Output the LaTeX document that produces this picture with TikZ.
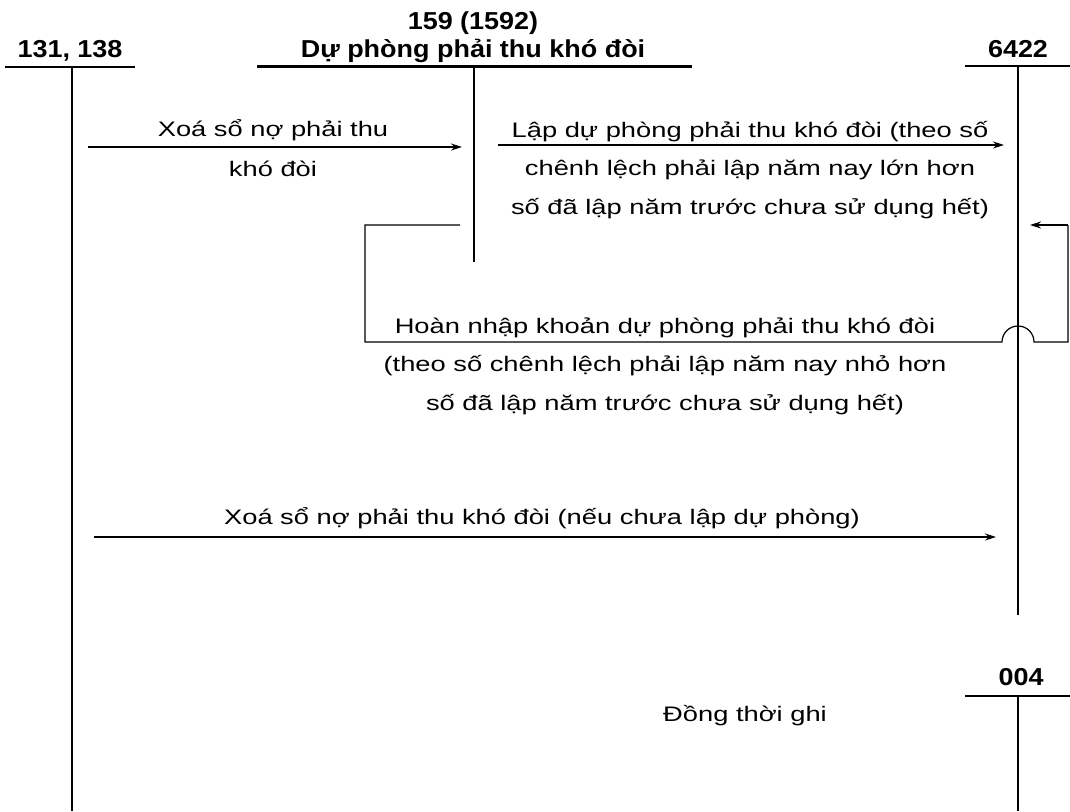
\documentclass[tikz,border=0pt]{standalone}
\usepackage{fontspec}
\setmainfont{Liberation Sans}[FakeStretch=1.3]
\newfontfamily\hdrfont{Liberation Sans}[FakeStretch=1.1]
\usetikzlibrary{arrows.meta}
\begin{document}
\begin{tikzpicture}[x=1pt,y=-1pt,
  lbl/.style={inner sep=0pt,align=center,font=\fontsize{21}{38.5}\selectfont},
  hdr/.style={inner sep=0pt,align=center,font=\hdrfont\bfseries\fontsize{24.5}{28}\selectfont},
  acct/.style={line width=1.5pt},
  flow/.style={line width=1.2pt,-{Stealth[length=11pt,width=7pt]}},
  wire/.style={line width=1.2pt}]
\useasboundingbox (0,0) rectangle (1070,811);
% headers
\node[hdr,anchor=base] (h131) at (70,57) {131, 138};
\node[hdr,anchor=south] (h159) at (473,63) {159 (1592)\\Dự phòng phải thu khó đòi};
\node[hdr,anchor=base] (h6422) at (1018,57) {6422};
\node[hdr,anchor=base] (h004) at (1021,685) {004};
% T-account coordinates
\coordinate (a131l) at (5,67);   \coordinate (a131r) at (135,67);
\coordinate (a131t) at (72,67);  \coordinate (a131b) at (72,811);
\coordinate (a159l) at (257,66); \coordinate (a159r) at (692,66);
\coordinate (a159t) at (474,66); \coordinate (a159b) at (474,262);
\coordinate (a6422l) at (965,66); \coordinate (a6422r) at (1070,66);
\coordinate (a6422t) at (1018,66); \coordinate (a6422b) at (1018,615);
\coordinate (a004l) at (965,696); \coordinate (a004r) at (1070,696);
\coordinate (a004t) at (1018,696); \coordinate (a004b) at (1018,811);
\draw[line width=1.8pt] (a131l) -- (a131r);
\draw[acct] (a131t) -- (a131b);
\draw[line width=3pt] (a159l) -- (a159r);
\draw[acct] (a159t) -- (a159b);
\draw[line width=1.8pt] (a6422l) -- (a6422r);
\draw[acct] (a6422t) -- (a6422b);
\draw[line width=1.8pt] (a004l) -- (a004r);
\draw[acct] (a004t) -- (a004b);
% arrow 1
\coordinate (f1s) at (88,147); \coordinate (f1e) at (462,147);
\draw[flow] (f1s) -- (f1e);
\node[lbl] (t1) at (273,148) {Xoá sổ nợ phải thu\\[1pt]khó đòi};
% arrow 2
\coordinate (f2s) at (498,145); \coordinate (f2e) at (1004,145);
\draw[flow] (f2s) -- (f2e);
\node[lbl] (t2) at (750,170) {Lập dự phòng phải thu khó đòi (theo số\\chênh lệch phải lập năm nay lớn hơn\\số đã lập năm trước chưa sử dụng hết)};
% reversal loop
\coordinate (r0) at (460,225);
\coordinate (r1) at (365,225);
\coordinate (r2) at (365,342);
\coordinate (rj1) at (1002,342);
\coordinate (r3) at (1068,342);
\coordinate (r4) at (1068,225);
\coordinate (r5) at (1030,225);
\draw[wire] (r0) -- (r1) -- (r2) -- (rj1) arc[start angle=180,end angle=360,radius=16] -- (r3) -- (r4);
\draw[flow] (r4) -- (r5);
\node[lbl] (t3) at (665,366) {Hoàn nhập khoản dự phòng phải thu khó đòi\\(theo số chênh lệch phải lập năm nay nhỏ hơn\\số đã lập năm trước chưa sử dụng hết)};
% arrow 3
\coordinate (f3s) at (94,537); \coordinate (f3e) at (996,537);
\draw[flow] (f3s) -- (f3e);
\node[lbl] (t4) at (542,518) {Xoá sổ nợ phải thu khó đòi (nếu chưa lập dự phòng)};
% note
\node[lbl] (t5) at (745,716) {Đồng thời ghi};
\end{tikzpicture}
\end{document}
